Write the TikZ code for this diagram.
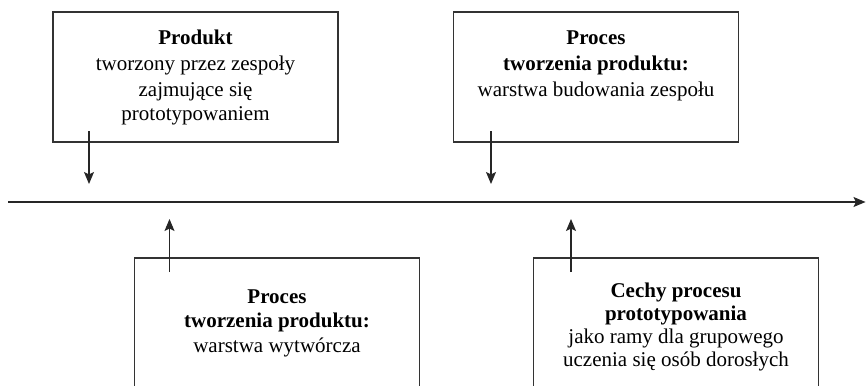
\documentclass[tikz,border=0pt]{standalone}
\usepackage{fontspec}
\setmainfont{Liberation Serif}
\usetikzlibrary{arrows.meta}
\begin{document}
\begin{tikzpicture}[x=1pt,y=-1pt,
  frame/.style={draw=black!80, line width=1.2pt, minimum width=285pt, inner sep=0pt},
  txt/.style={anchor=base, inner sep=0pt, font=\fontsize{21}{25}\selectfont},
  txtb/.style={txt, font=\fontsize{21}{25}\selectfont\bfseries},
  link/.style={draw=black!85, line width=1.1pt, -{Stealth[length=12pt,width=10pt,inset=2.5pt]}}]
\useasboundingbox (0,0) rectangle (866,385);
\clip (0,0) rectangle (866,385);

% time axis
\coordinate (axL) at (8,202);
\coordinate (axR) at (865.5,202);
\draw[link] (axL) -- (axR);

% upper boxes
\node[frame, minimum height=130pt] (b1) at (195.5,77) {};
\node[frame, minimum height=130pt] (b2) at (596,77) {};
% lower boxes (running past the lower edge)
\node[frame, minimum height=160pt] (b3) at (277,338) {};
\node[frame, minimum height=160pt] (b4) at (676,338) {};

% texts
\node[txtb] (t11) at (195.5,45) {Produkt};
\node[txt]  (t12) at (195.5,71) {tworzony przez zespoły};
\node[txt]  (t13) at (195.5,96) {zajmujące się};
\node[txt]  (t14) at (195.5,121) {prototypowaniem};

\node[txtb] (t21) at (596,45) {Proces};
\node[txtb] (t22) at (596,71) {tworzenia produktu:};
\node[txt]  (t23) at (596,97) {warstwa budowania zespołu};

\node[txtb] (t31) at (277,303) {Proces};
\node[txtb] (t32) at (277,327.5) {tworzenia produktu:};
\node[txt]  (t33) at (277,352) {warstwa wytwórcza};

\node[txtb] (t41) at (676,297) {Cechy procesu};
\node[txtb] (t42) at (676,320) {prototypowania};
\node[txt]  (t43) at (676,343) {jako ramy dla grupowego};
\node[txt]  (t44) at (676,366) {uczenia się osób dorosłych};

% arrows between boxes and the axis
\coordinate (a1s) at (89,131);   \coordinate (a1e) at (89,184);
\coordinate (a2s) at (491,131);  \coordinate (a2e) at (491,184);
\coordinate (a3s) at (169.5,272); \coordinate (a3e) at (169.5,219);
\coordinate (a4s) at (571,272);  \coordinate (a4e) at (571,219);
\draw[link] (a1s) -- (a1e);
\draw[link] (a2s) -- (a2e);
\draw[link] (a3s) -- (a3e);
\draw[link] (a4s) -- (a4e);
\end{tikzpicture}
\end{document}
